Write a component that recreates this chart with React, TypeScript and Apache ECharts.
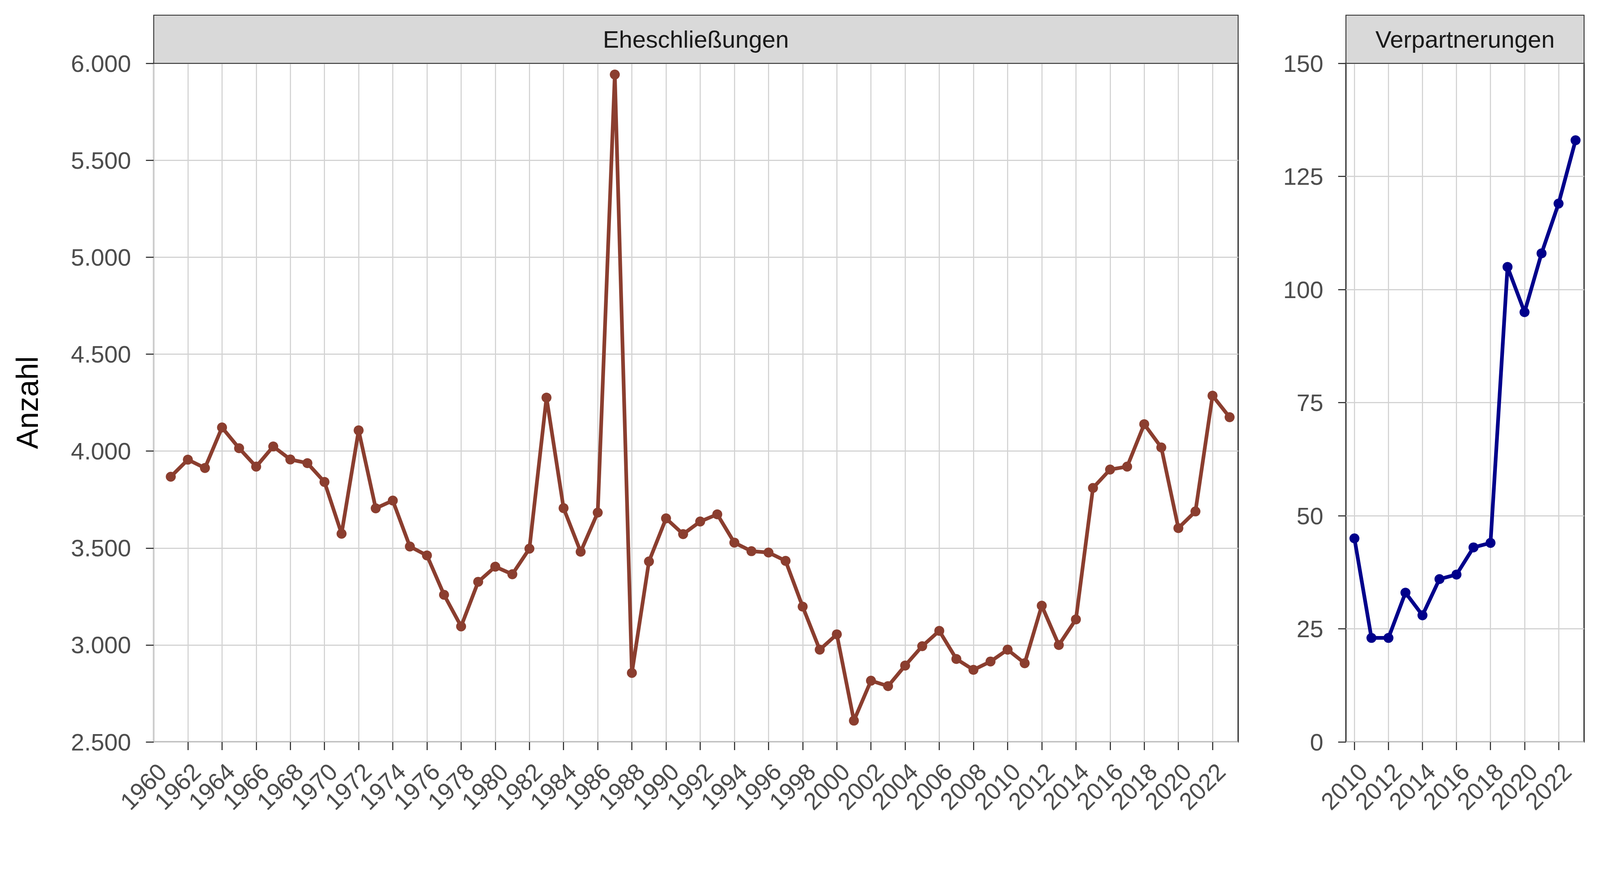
import React, { useEffect, useRef } from "react";
import * as echarts from "echarts";

// Eheschließungen pro Jahr
const marriageYears = [
  1961, 1962, 1963, 1964, 1965, 1966, 1967, 1968, 1969, 1970, 1971, 1972,
  1973, 1974, 1975, 1976, 1977, 1978, 1979, 1980, 1981, 1982, 1983, 1984,
  1985, 1986, 1987, 1988, 1989, 1990, 1991, 1992, 1993, 1994, 1995, 1996,
  1997, 1998, 1999, 2000, 2001, 2002, 2003, 2004, 2005, 2006, 2007, 2008,
  2009, 2010, 2011, 2012, 2013, 2014, 2015, 2016, 2017, 2018, 2019, 2020,
  2021, 2022, 2023,
];
const marriageValues = [
  3868, 3956, 3913, 4122, 4015, 3920, 4024, 3957, 3938, 3841, 3574, 4107,
  3705, 3745, 3508, 3462, 3259, 3096, 3326, 3404, 3365, 3497, 4276, 3706,
  3481, 3683, 5942, 2856, 3431, 3653, 3572, 3637, 3674, 3528, 3484, 3477,
  3434, 3198, 2976, 3055, 2610, 2816, 2788, 2894, 2994, 3073, 2928, 2872,
  2915, 2976, 2906, 3203, 3000, 3132, 3810, 3905, 3920, 4139, 4019, 3603,
  3689, 4286, 4175,
];

// Verpartnerungen pro Jahr
const partnerYears = [
  2010, 2011, 2012, 2013, 2014, 2015, 2016, 2017, 2018, 2019, 2020, 2021,
  2022, 2023,
];
const partnerValues = [45, 23, 23, 33, 28, 36, 37, 43, 44, 105, 95, 108, 119, 133];

// tick labels on the x axes
const leftTicks = [
  1960, 1962, 1964, 1966, 1968, 1970, 1972, 1974, 1976, 1978, 1980, 1982,
  1984, 1986, 1988, 1990, 1992, 1994, 1996, 1998, 2000, 2002, 2004, 2006,
  2008, 2010, 2012, 2014, 2016, 2018, 2020, 2022,
];
const rightTicks = [2010, 2012, 2014, 2016, 2018, 2020, 2022];

const panelTitles = ["Eheschließungen", "Verpartnerungen"];

const FONT = "'Liberation Sans', Arial, sans-serif";
const DARK = "#333333";
const TEXT = "#4D4D4D";
const GRIDLINE = "#D3D3D3";

// layout in reference pixels (4320 x 2232), scaled to the real viewport
const REF_W = 4320;
const TOP = 171;
const HEIGHT = 1832;
const STRIP_TOP = 41;
const panels = [
  { left: 415, width: 2928 },
  { left: 3634, width: 643 },
];

const dotSep = (v: number) =>
  String(v).replace(/\B(?=(\d{3})+(?!\d))/g, ".");

export default function App() {
  const chartRef = useRef<HTMLDivElement>(null);

  useEffect(() => {
    if (!chartRef.current) return;
    const chart = echarts.init(chartRef.current, undefined, { renderer: "svg" });
    const s = chart.getWidth() / REF_W;

    const xAxisBase = (ticks: number[], min: number, max: number, gridIndex: number) => ({
      type: "value" as const,
      gridIndex,
      min,
      max,
      axisLine: { show: false },
      axisTick: {
        show: true,
        length: 22 * s,
        customValues: ticks,
        lineStyle: { color: DARK, width: 3 * s },
      },
      axisLabel: {
        // blank labels at the axis ends keep the real first/last labels visible
        customValues: [min, ...ticks, max],
        rotate: 45,
        margin: 46 * s,
        verticalAlign: "top",
        hideOverlap: false,
        color: TEXT,
        fontSize: 65 * s,
        fontFamily: FONT,
        formatter: (v: number) => (ticks.indexOf(v) >= 0 ? String(v) : " "),
      },
      splitLine: {
        show: true,
        showMinLine: true,
        showMaxLine: true,
        lineStyle: { color: GRIDLINE, width: 3 * s },
      },
    });

    const yAxisBase = (min: number, max: number, interval: number, gridIndex: number) => ({
      type: "value" as const,
      gridIndex,
      min,
      max,
      interval,
      axisLine: { show: false },
      axisTick: { show: true, length: 21 * s, lineStyle: { color: DARK, width: 3 * s } },
      axisLabel: {
        margin: 61 * s,
        color: TEXT,
        fontSize: 65 * s,
        fontFamily: FONT,
        showMinLabel: true,
        showMaxLabel: true,
        formatter: (v: number) => dotSep(v),
      },
      splitLine: { show: true, lineStyle: { color: GRIDLINE, width: 3 * s } },
    });

    const strips: any[] = [];
    panels.forEach((p, i) => {
      strips.push({
        type: "rect",
        shape: { x: p.left * s, y: STRIP_TOP * s, width: p.width * s, height: (TOP - STRIP_TOP) * s },
        style: { fill: "#D9D9D9", stroke: DARK, lineWidth: 2.5 * s },
        z: 10,
      });
      strips.push({
        type: "text",
        x: (p.left + p.width / 2) * s,
        y: ((STRIP_TOP + TOP) / 2) * s,
        style: {
          text: panelTitles[i],
          textAlign: "center",
          textVerticalAlign: "middle",
          fontSize: 65 * s,
          fontFamily: FONT,
          fill: "#1A1A1A",
        },
        z: 11,
      });
    });

    chart.setOption({
      animation: false,
      backgroundColor: "#FFFFFF",
      grid: panels.map((p) => ({
        left: p.left * s,
        top: TOP * s,
        width: p.width * s,
        height: HEIGHT * s,
        show: true,
        borderColor: DARK,
        borderWidth: 3.5 * s,
        backgroundColor: "transparent",
        outerBoundsMode: "none",
      })),
      xAxis: [
        xAxisBase(leftTicks, 1960, 2023.5, 0),
        xAxisBase(rightTicks, 2009.5, 2023.5, 1),
      ],
      yAxis: [
        {
          ...yAxisBase(2500, 6000, 500, 0),
          name: "Anzahl",
          nameLocation: "middle",
          nameRotate: 90,
          nameGap: 300 * s,
          nameTextStyle: { color: "#000000", fontSize: 82 * s, fontFamily: FONT },
        },
        yAxisBase(0, 150, 25, 1),
      ],
      graphic: strips,
      series: [
        {
          type: "line",
          xAxisIndex: 0,
          yAxisIndex: 0,
          data: marriageYears.map((y, i) => [y, marriageValues[i]]),
          symbol: "circle",
          symbolSize: 27 * s,
          lineStyle: { color: "#8B3E2F", width: 10 * s },
          itemStyle: { color: "#8B3E2F" },
          z: 5,
        },
        {
          type: "line",
          xAxisIndex: 1,
          yAxisIndex: 1,
          data: partnerYears.map((y, i) => [y, partnerValues[i]]),
          symbol: "circle",
          symbolSize: 27 * s,
          lineStyle: { color: "#00008B", width: 10 * s },
          itemStyle: { color: "#00008B" },
          z: 5,
        },
      ],
    });

    return () => chart.dispose();
  }, []);

  return (
    <div
      ref={chartRef}
      style={{ position: "fixed", left: 0, top: 0, width: "100vw", height: "100vh" }}
    />
  );
}
